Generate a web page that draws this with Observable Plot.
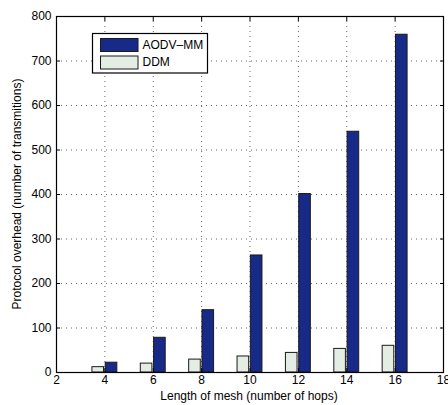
<!DOCTYPE html>
<html>
<head>
<meta charset="utf-8">
<script src="https://cdn.jsdelivr.net/npm/d3@7"></script>
<script src="https://cdn.jsdelivr.net/npm/@observablehq/plot@0.6"></script>
<style>
  html, body { margin: 0; padding: 0; background: #fff; }
  #chart { position: relative; width: 448px; height: 405px; }
  svg { font-family: "Liberation Sans", Arial, Helvetica, sans-serif; }
</style>
</head>
<body>
<div id="chart"></div>
<script>
const hops = [4, 6, 8, 10, 12, 14, 16];
const aodvMM = [22, 78, 140, 263, 401, 541, 759];
const ddm = [12, 20, 29, 36, 44, 53, 60];
const seriesNames = ["AODV\u2013MM", "DDM"];
const seriesColors = ["#172a88", "#e3ede4"];
const xTicks = [2, 4, 6, 8, 10, 12, 14, 16, 18];
const yTicks = [0, 100, 200, 300, 400, 500, 600, 700, 800];

const rows = [];
hops.forEach((h, i) => {
  rows.push({hops: h, series: seriesNames[1], value: ddm[i], side: -1});
  rows.push({hops: h, series: seriesNames[0], value: aodvMM[i], side: 1});
});

const halfGap = 0.035, barW = 0.48;
const chart = Plot.plot({
  width: 448,
  height: 405,
  marginLeft: 56,
  marginRight: 5,
  marginTop: 16,
  marginBottom: 33,
  style: {fontFamily: "'Liberation Sans', Arial, Helvetica, sans-serif", fontSize: "12px", color: "#000", background: "#fff"},
  x: {domain: [2, 18]},
  y: {domain: [0, 800]},
  color: {domain: seriesNames, range: seriesColors},
  marks: [
    Plot.gridX(xTicks, {stroke: "#000", strokeOpacity: 0.6, strokeDasharray: "1,4"}),
    Plot.gridY(yTicks, {stroke: "#000", strokeOpacity: 0.6, strokeDasharray: "1,4"}),
    Plot.rectY(rows, {
      x1: d => d.side < 0 ? d.hops - halfGap - barW : d.hops + halfGap,
      x2: d => d.side < 0 ? d.hops - halfGap : d.hops + halfGap + barW,
      y1: 0,
      y2: "value",
      fill: "series",
      stroke: "#1a1a1a",
      strokeWidth: 1
    }),
    Plot.axisX(xTicks, {tickSize: -4, tickPadding: 7, label: null, fontSize: 12}),
    Plot.axisX(xTicks, {anchor: "top", tickSize: -4, tickFormat: () => "", label: null}),
    Plot.axisY(yTicks, {tickSize: -4, tickPadding: 9, label: null, fontSize: 12}),
    Plot.axisY(yTicks, {anchor: "right", tickSize: -4, tickFormat: () => "", label: null}),
    Plot.frame({stroke: "#000", strokeWidth: 1.2})
  ]
});
document.getElementById("chart").appendChild(chart);

// axis titles and legend
const svg = d3.select(chart);
svg.append("text")
  .attr("x", 249).attr("y", 397)
  .attr("text-anchor", "middle").attr("dominant-baseline", "middle")
  .attr("font-size", 12).text("Length of mesh (number of hops)");
svg.append("text")
  .attr("transform", "translate(18,194) rotate(-90)")
  .attr("text-anchor", "middle").attr("dominant-baseline", "middle")
  .attr("font-size", 12).text("Protocol overhead (number of transmitions)");

const lg = svg.append("g");
lg.append("rect").attr("x", 92.5).attr("y", 33.5).attr("width", 115).attr("height", 39.5)
  .attr("fill", "#fff").attr("stroke", "#000").attr("stroke-width", 1.2);
seriesNames.forEach((name, i) => {
  const y0 = 38.5 + i * 17.5;
  lg.append("rect").attr("x", 100.5).attr("y", y0).attr("width", 37.5).attr("height", 13)
    .attr("fill", seriesColors[i]).attr("stroke", "#1a1a1a");
  lg.append("text").attr("x", 142.5).attr("y", y0 + 7)
    .attr("text-anchor", "start")
    .attr("dominant-baseline", "middle").attr("font-size", 12).text(name);
});
</script>
</body>
</html>
